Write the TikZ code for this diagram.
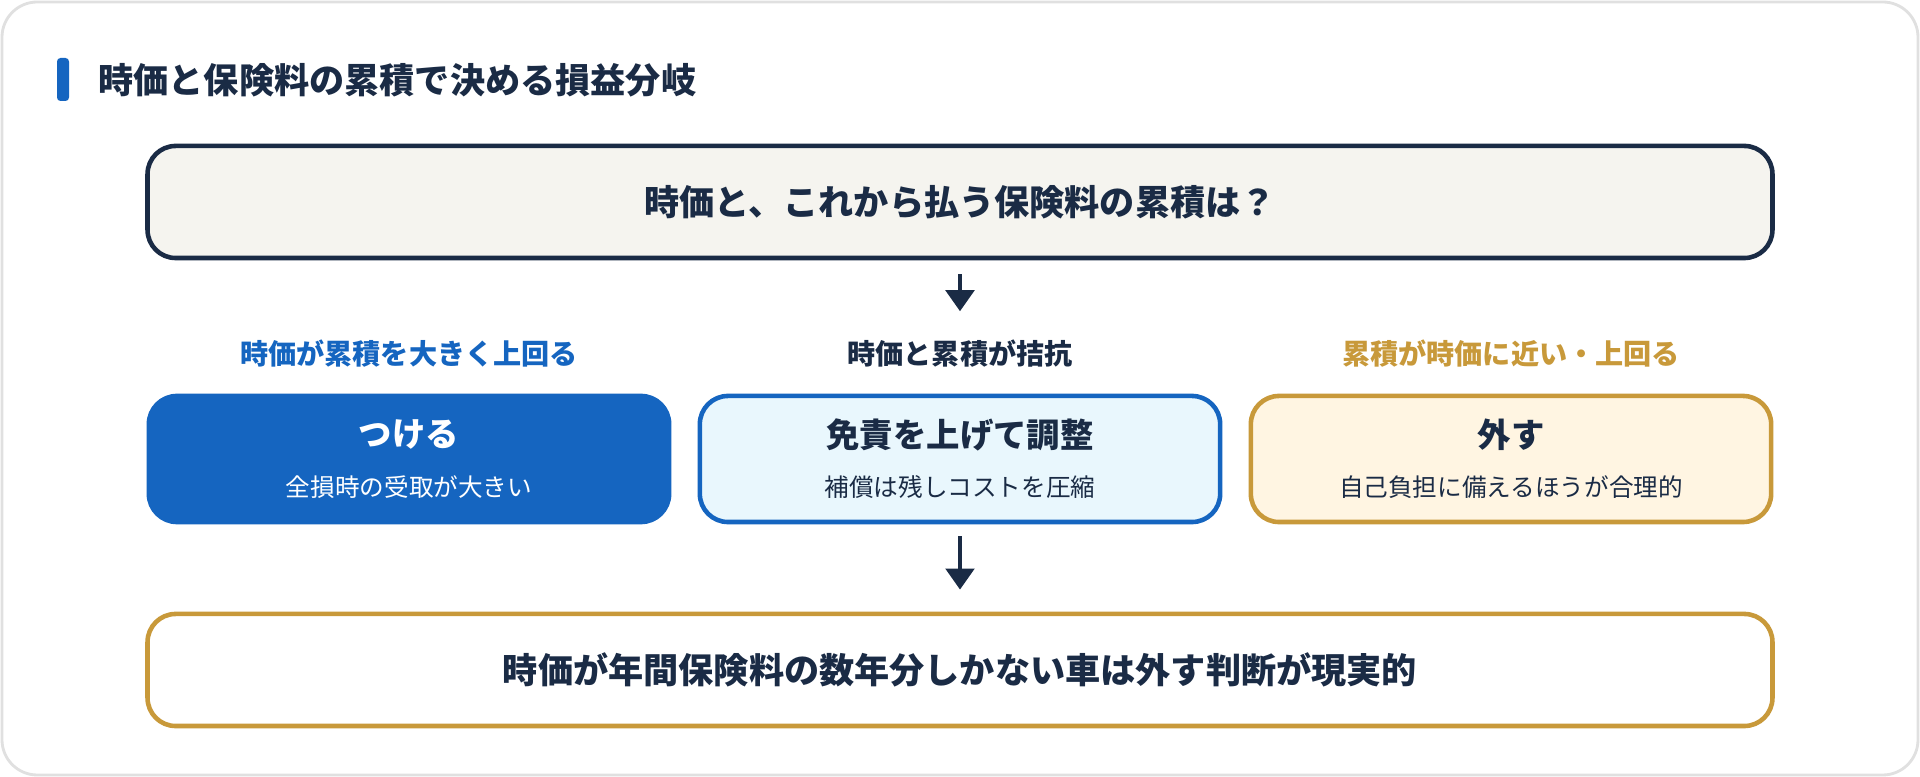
\documentclass[tikz,border=0pt]{standalone}
\usepackage{fontspec}
\setmainfont{Noto Sans CJK JP}
\usetikzlibrary{positioning,arrows.meta}
\definecolor{navy}{HTML}{1A2B45}
\definecolor{cblue}{HTML}{1565C0}
\definecolor{cgold}{HTML}{C8993A}
\definecolor{cpaper}{HTML}{F5F4EF}
\definecolor{cice}{HTML}{E9F7FD}
\definecolor{ccream}{HTML}{FFF5E2}
\tikzset{
  box/.style={draw,rounded corners=8pt,line width=1.3pt,align=center,inner sep=0pt},
  wide/.style={box,minimum width=16.24cm,minimum height=1.12cm},
  card/.style={box,minimum width=5.2cm,minimum height=1.26cm},
  tag/.style={font=\fontsize{8pt}{10pt}\selectfont\bfseries},
  flow/.style={-{Triangle[length=6pt,width=8pt]},line width=1.4pt,navy}
}
\begin{document}
\begin{tikzpicture}[x=0.01cm,y=-0.01cm]
        % Frame
        \draw[rounded corners=10pt,draw=black!12,fill=white,line width=0.8pt] (2,2) rectangle (1918,775);
        \useasboundingbox (0,0) rectangle (1920,777);
        % Title
        \fill[cblue,rounded corners=1pt] (57,58) rectangle (69,101);
        \node[anchor=west,text=navy,font=\fontsize{10pt}{12pt}\selectfont\bfseries] (title) at (86,80) {時価と保険料の累積で決める損益分岐};

        % Question
        \node[wide,draw=navy,fill=cpaper,text=navy,font=\fontsize{10pt}{12pt}\selectfont\bfseries] (q) at (960,202) {時価と、これから払う保険料の累積は？};

        % Cases
        \node[card,draw=cblue,fill=cblue,text=white] (keep) at (409,459)
          {{\fontsize{9.5pt}{12pt}\selectfont\bfseries つける}\\[2pt]{\fontsize{7pt}{9pt}\selectfont 全損時の受取が大きい}};
        \node[card,draw=cblue,fill=cice,text=navy] (adj) at (960,459)
          {{\fontsize{9.5pt}{12pt}\selectfont\bfseries 免責を上げて調整}\\[2pt]{\fontsize{7pt}{9pt}\selectfont 補償は残しコストを圧縮}};
        \node[card,draw=cgold,fill=ccream,text=navy] (drop) at (1511,459)
          {{\fontsize{9.5pt}{12pt}\selectfont\bfseries 外す}\\[2pt]{\fontsize{7pt}{9pt}\selectfont 自己負担に備えるほうが合理的}};
        \node[tag,text=cblue,above=0.14cm of keep] (tkeep) {時価が累積を大きく上回る};
        \node[tag,text=navy,above=0.14cm of adj] (tadj) {時価と累積が拮抗};
        \node[tag,text=cgold,above=0.14cm of drop] (tdrop) {累積が時価に近い・上回る};

        % Conclusion
        \node[wide,draw=cgold,fill=white,text=navy,font=\fontsize{10pt}{12pt}\selectfont\bfseries] (res) at (960,670) {時価が年間保険料の数年分しかない車は外す判断が現実的};

        \draw[flow] ([yshift=-0.14cm]q.south) -- ([yshift=0.16cm]tadj.north);
        \draw[flow] ([yshift=-0.12cm]adj.south) -- ([yshift=0.22cm]res.north);
\end{tikzpicture}
\end{document}
